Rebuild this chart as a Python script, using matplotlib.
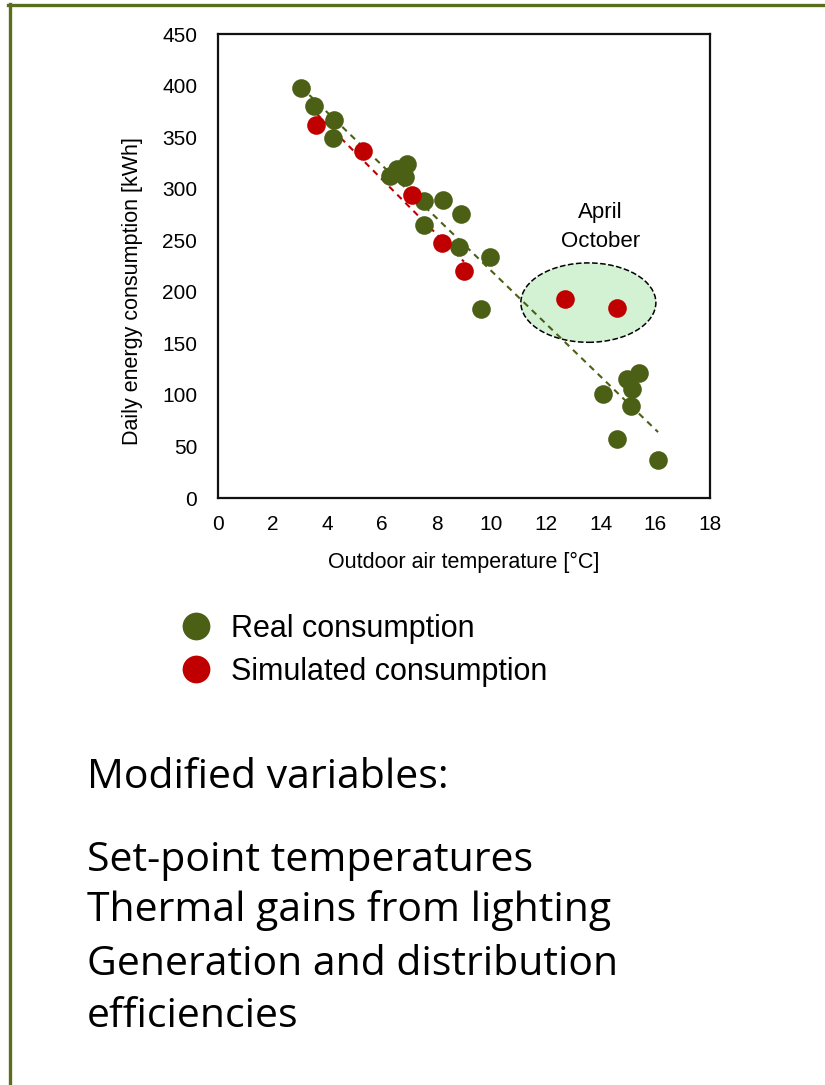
import numpy as np
import matplotlib
matplotlib.use("Agg")
import matplotlib.pyplot as plt
from matplotlib.patches import Ellipse
from matplotlib.lines import Line2D

plt.rcParams["font.family"] = ["Liberation Sans", "DejaVu Sans"]

# real consumption (outdoor temp [°C], daily energy [kWh])
real_t = [3.04, 3.5, 4.24, 4.2, 6.3, 6.55, 6.9, 6.85, 7.54, 8.23, 8.9, 7.54, 8.82,
          9.95, 9.62, 14.09, 15.4, 14.96, 15.15, 15.1, 14.6, 16.1]
real_e = [398, 380, 367, 349, 312, 319, 324, 311, 288, 289, 275, 265, 243,
          234, 183, 101, 121, 115, 106, 89, 57, 37]

# simulated consumption (last two = April / October)
sim_t = [3.6, 5.3, 7.1, 8.2, 9.0, 12.7, 14.6]
sim_e = [362, 337, 294, 247, 220, 193, 184]
n_fit = 5

green = "#4b6015"
red = "#c00000"

fig = plt.figure(figsize=(8.25, 10.85), dpi=100)
ax = fig.add_axes([218/825, 1 - 498/1085, 492/825, 464/1085])

# trend lines
p = np.polyfit(real_t, real_e, 1)
xs = np.array([min(real_t), max(real_t)])
ax.plot(xs, np.polyval(p, xs), color=green, lw=1.5, ls=(0, (3, 2.5)), zorder=2)
q = np.polyfit(sim_t[:n_fit], sim_e[:n_fit], 1)
xs2 = np.array([min(sim_t[:n_fit]), max(sim_t[:n_fit])])
ax.plot(xs2, np.polyval(q, xs2), color=red, lw=1.5, ls=(0, (3, 2.5)), zorder=2)

# April / October highlight
ell = Ellipse((np.mean(sim_t[n_fit:]) - 0.1, np.mean(sim_e[n_fit:]) + 1), 4.94, 77,
              facecolor="#d3f1d3", edgecolor="black", ls="--", lw=1.1, zorder=1)
ax.add_patch(ell)
ax.text(13.98, 263, "April\nOctober", ha="center", va="center", fontsize=16,
        linespacing=1.5)

ax.scatter(real_t, real_e, s=180, color=green, linewidths=0, zorder=3)
ax.scatter(sim_t, sim_e, s=180, color=red, linewidths=0, zorder=4)

ax.set_xlim(0, 18)
ax.set_ylim(0, 450)
ax.set_xticks(np.arange(0, 19, 2))
ax.set_yticks(np.arange(0, 451, 50))
ax.tick_params(length=0, labelsize=15)
ax.tick_params(axis="y", pad=15)
ax.tick_params(axis="x", pad=12)
for s in ax.spines.values():
    s.set_linewidth(1.6)
    s.set_color("#111111")

ax.set_xlabel("Outdoor air temperature [°C]", fontsize=15.5)
ax.set_ylabel("Daily energy consumption [kWh]", fontsize=15.5)
ax.xaxis.set_label_coords(0.5, -0.116)
ax.yaxis.set_label_coords(-0.152, 0.446)

handles = [Line2D([], [], marker="o", ls="", color=green, markersize=20, markeredgewidth=0),
           Line2D([], [], marker="o", ls="", color=red, markersize=20, markeredgewidth=0)]
fig.legend(handles, ["Real consumption", "Simulated consumption"], loc="upper left",
           bbox_to_anchor=(181/825, 1 - 614/1085), frameon=False, fontsize=22,
           handlelength=1.0, handletextpad=0.65, labelspacing=0.42,
           borderpad=0, borderaxespad=0)

# notes below
notes = [("Modified variables:", 788), ("Set-point temperatures", 871),
         ("Thermal gains from lighting", 921), ("Generation and distribution", 975),
         ("efficiencies", 1027)]
for txt, yb in notes:
    fig.text(87/825, 1 - yb/1085, txt, fontsize=29.5, family=["Open Sans", "DejaVu Sans"],
             va="baseline", ha="left")

# frame lines
fig.add_artist(Line2D([8/825, 1], [1 - 5/1085] * 2, transform=fig.transFigure,
                      color="#5a6f1e", lw=2.4))
fig.add_artist(Line2D([9.5/825] * 2, [0, 1 - 4/1085], transform=fig.transFigure,
                      color="#5a6f1e", lw=2.4))

fig.savefig("out.png", dpi=100)
